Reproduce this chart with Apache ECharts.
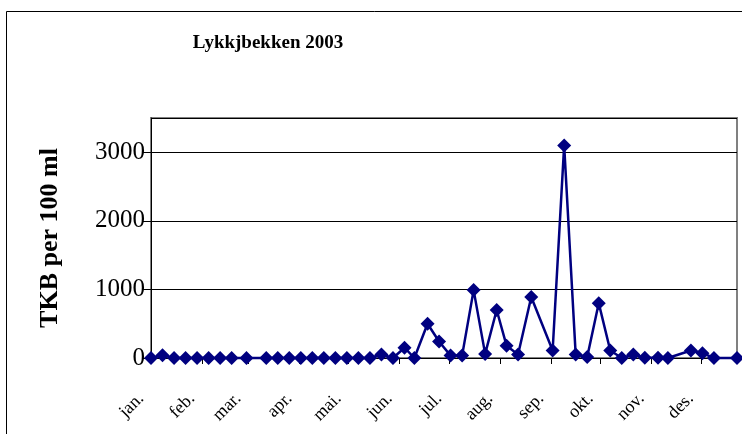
<!DOCTYPE html>
<html>
<head>
<meta charset="utf-8">
<script src="https://cdn.jsdelivr.net/npm/echarts@6/dist/echarts.min.js"></script>
<style>
  html, body { margin: 0; padding: 0; background: #fff; }
  #chart { width: 742px; height: 434px; }
</style>
</head>
<body>
<div id="chart"></div>
<script>
// prøvedatoer og målte verdier (TKB per 100 ml)
const sampleDates = [
  '2003-01-01', '2003-01-08', '2003-01-15', '2003-01-22', '2003-01-29',
  '2003-02-05', '2003-02-12', '2003-02-19', '2003-02-28',
  '2003-03-12', '2003-03-19', '2003-03-26',
  '2003-04-02', '2003-04-09', '2003-04-16', '2003-04-23', '2003-04-30',
  '2003-05-07', '2003-05-14', '2003-05-21', '2003-05-28',
  '2003-06-04', '2003-06-10', '2003-06-18', '2003-06-25',
  '2003-07-02', '2003-07-09', '2003-07-16', '2003-07-23', '2003-07-30',
  '2003-08-05', '2003-08-12', '2003-08-20',
  '2003-09-02', '2003-09-09', '2003-09-16', '2003-09-23', '2003-09-30',
  '2003-10-07', '2003-10-14', '2003-10-21', '2003-10-28',
  '2003-11-05', '2003-11-11', '2003-11-25',
  '2003-12-02', '2003-12-09', '2003-12-23'
]
const tkbValues = [
  0, 40, 0, 0, 0,
  0, 0, 0, 0,
  0, 0, 0,
  0, 0, 0, 0, 0,
  0, 0, 50, 0,
  150, 0, 500, 240,
  35, 35, 990, 60, 700,
  180, 50, 890,
  110, 3100, 50, 15, 800,
  110, 0, 50, 5,
  5, 0, 110,
  70, 0, 0
]
const monthLabels = ['jan.', 'feb.', 'mar.', 'apr.', 'mai.', 'jun.', 'jul.', 'aug.', 'sep.', 'okt.', 'nov.', 'des.']
const yTicks = [0, 1000, 2000, 3000]

const serif = '"Liberation Serif", "DejaVu Serif", serif'
const DAY = 24 * 3600 * 1000

const chart = echarts.init(document.getElementById('chart'))
chart.setOption({
  backgroundColor: '#fff',
  animation: false,
  title: {
    text: 'Lykkjbekken 2003',
    left: 263,
    top: 29,
    textAlign: 'center',
    textStyle: { fontFamily: serif, fontSize: 19, fontWeight: 'bold', color: '#000' }
  },
  graphic: [
    {
      type: 'rect',
      shape: { x: 6.5, y: 11.5, width: 800, height: 500 },
      style: { fill: 'none', stroke: '#000', lineWidth: 1 },
      silent: true,
      z: -1
    }
  ],
  grid: {
    left: 151,
    top: 118,
    right: 5,
    bottom: 76,
    show: true,
    borderColor: '#808080',
    borderWidth: 2,
    backgroundColor: '#fff'
  },
  xAxis: {
    type: 'time',
    min: sampleDates[0],
    max: sampleDates[sampleDates.length - 1],
    minInterval: 28 * DAY,
    maxInterval: 31 * DAY,
    axisLine: { show: true, onZero: true, lineStyle: { color: '#000', width: 1 } },
    axisTick: { show: true, length: 6, lineStyle: { color: '#000' } },
    splitLine: { show: false },
    axisLabel: {
      rotate: 45,
      margin: 28,
      padding: [0, 14, 0, 0],
      fontFamily: serif,
      fontSize: 18,
      color: '#000',
      hideOverlap: false,
      formatter: (val) => monthLabels[new Date(val).getMonth()]
    }
  },
  yAxis: {
    type: 'value',
    min: 0,
    max: 3500,
    interval: 1000,
    name: 'TKB per 100 ml',
    nameLocation: 'middle',
    nameGap: 88,
    nameTextStyle: { fontFamily: serif, fontSize: 26, fontWeight: 'bold', color: '#000' },
    axisLine: { show: true, lineStyle: { color: '#000', width: 1 } },
    axisTick: { show: true, length: 8, lineStyle: { color: '#000' } },
    splitLine: { show: true, lineStyle: { color: '#000', width: 1 } },
    axisLabel: {
      fontFamily: serif,
      fontSize: 25,
      color: '#000',
      margin: 6,
      showMaxLabel: false,
      formatter: (v) => (yTicks.includes(v) ? String(v) : '')
    }
  },
  series: [
    {
      type: 'line',
      data: sampleDates.map((d, i) => [d, tkbValues[i]]),
      symbol: 'diamond',
      symbolSize: 14,
      showAllSymbol: true,
      lineStyle: { color: '#000080', width: 2.5 },
      itemStyle: { color: '#000080' },
      clip: false
    }
  ]
})
</script>
</body>
</html>
